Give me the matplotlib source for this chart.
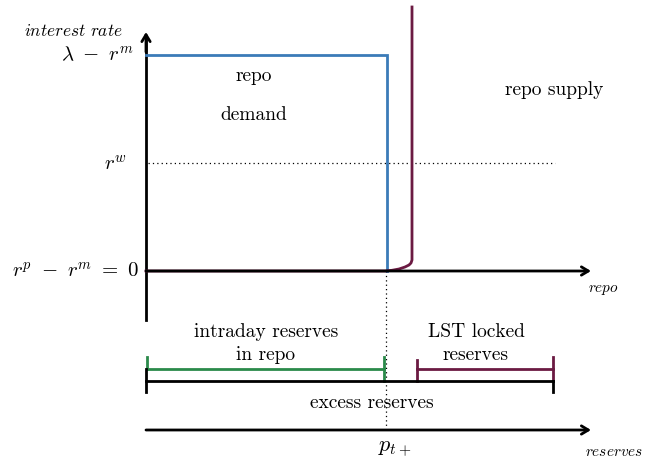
import matplotlib
matplotlib.use("Agg")
import matplotlib.pyplot as plt
import numpy as np

plt.rcParams['mathtext.fontset'] = 'cm'
plt.rcParams['font.family'] = ['cmr10', 'DejaVu Serif']
plt.rcParams['axes.unicode_minus'] = False

# ---- diagram key positions (pixel-like units, y downwards) ----
axis_origin = [146, 271]          # repo axis origin
y_axis_top = 32
y_axis_bottom = 320
x_axis_end = 591
rate_levels = [55, 163, 271]      # lambda - r^m, r^w, r^p - r^m = 0
rate_labels = [r'$\lambda\ -\ r^m$', r'$r^w$', r'$r^p\ -\ r^m\ =\ 0$']
demand_x = [146, 387, 387]
demand_y = [55, 55, 271]
supply_x = [146, 385, 392, 399, 405, 409, 411, 412, 412]
supply_y = [271, 271, 270.3, 269, 267, 265, 263, 260, 7]
pt_x = 386
reserves_axis_y = 430
green_span = [147, 384]
purple_span = [417, 553]
black_span = [146, 553]

blue = '#3b7bb8'
purple = '#6b1a42'
green = '#2a8a4a'

fig = plt.figure(figsize=(6.52, 4.63), dpi=100)
ax = fig.add_axes([0, 0, 1, 1])
ax.set_xlim(0, 652)
ax.set_ylim(463, 0)
ax.axis('off')

arrow_kw = dict(arrowstyle='->,head_length=0.5,head_width=0.3', lw=2.0, color='black',
                shrinkA=0, shrinkB=0)
# vertical axis
ax.plot([axis_origin[0], axis_origin[0]], [y_axis_bottom, y_axis_top + 5], color='black', lw=2.0)
ax.annotate('', xy=(axis_origin[0], y_axis_top), xytext=(axis_origin[0], y_axis_top + 20),
            arrowprops=arrow_kw)

# dotted lines
ax.plot([148, 555], [rate_levels[1]] * 2, color='black', lw=0.9, ls=(0, (1, 2.5)))
ax.plot([pt_x, pt_x], [271, reserves_axis_y], color='black', lw=0.9, ls=(0, (1, 2.5)))

# demand
ax.plot(demand_x, demand_y, color=blue, lw=2.0, solid_joinstyle='miter')
# horizontal repo axis
ax.annotate('', xy=(x_axis_end, axis_origin[1]), xytext=(axis_origin[0], axis_origin[1]),
            arrowprops=arrow_kw)
# supply
ax.plot(supply_x, supply_y, color=purple, lw=2.0)

# rate labels
ax.text(134, rate_levels[0], rate_labels[0], ha='right', va='center', fontsize=15)
ax.text(127, rate_levels[1] + 1, rate_labels[1], ha='right', va='center', fontsize=15)
ax.text(139, rate_levels[2], rate_labels[2], ha='right', va='center', fontsize=15)
ax.text(73, 31, r'$interest\ rate$', ha='center', va='center', fontsize=12.5)

fs = 14
ax.text(254, 76, 'repo', ha='center', va='center', fontsize=fs)
ax.text(254, 115, 'demand', ha='center', va='center', fontsize=fs)
ax.text(554, 90, 'repo supply', ha='center', va='center', fontsize=fs)
ax.text(603, 290, r'$repo$', ha='center', va='center', fontsize=11)

ax.text(266, 332, 'intraday reserves', ha='center', va='center', fontsize=fs)
ax.text(266, 355, 'in repo', ha='center', va='center', fontsize=fs)
ax.text(476, 332, 'LST locked', ha='center', va='center', fontsize=fs)
ax.text(476, 355, 'reserves', ha='center', va='center', fontsize=fs)

# brackets
ax.plot(green_span, [369, 369], color=green, lw=2.0)
ax.plot([green_span[0]] * 2, [357, 369], color=green, lw=2.0)
ax.plot([green_span[1]] * 2, [357, 381], color=green, lw=2.0)
ax.plot(purple_span, [369, 369], color=purple, lw=2.0)
ax.plot([purple_span[0]] * 2, [360, 381], color=purple, lw=2.0)
ax.plot([purple_span[1]] * 2, [357, 381], color=purple, lw=2.0)
ax.plot(black_span, [380.5, 380.5], color='black', lw=2.0)
ax.plot([black_span[0]] * 2, [369, 392], color='black', lw=2.0)
ax.plot([black_span[1]] * 2, [381, 392], color='black', lw=2.0)
ax.text(372, 403, 'excess reserves', ha='center', va='center', fontsize=fs)

# reserves axis
ax.annotate('', xy=(x_axis_end, reserves_axis_y), xytext=(146, reserves_axis_y),
            arrowprops=arrow_kw)
ax.text(395, 450, r'$p_{t+}$', ha='center', va='center', fontsize=16)
ax.text(614, 452, r'$reserves$', ha='center', va='center', fontsize=11)

fig.savefig('out.png', dpi=100)
